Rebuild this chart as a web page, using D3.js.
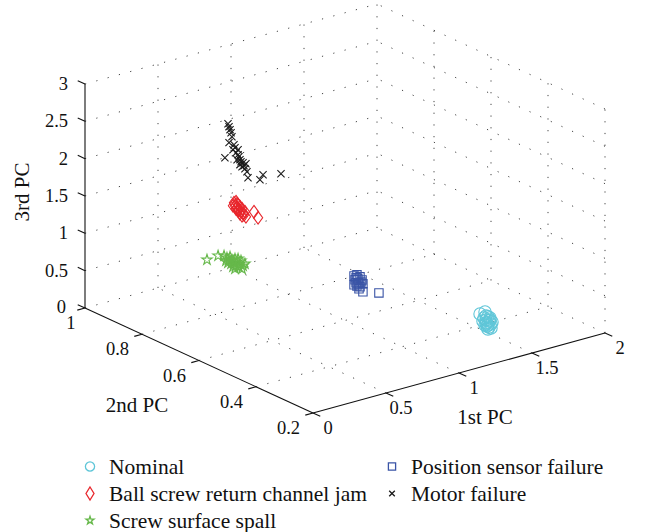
<!DOCTYPE html>
<html>
<head>
<meta charset="utf-8">
<script src="https://cdn.jsdelivr.net/npm/d3@7"></script>
<style>
  html, body { margin: 0; padding: 0; background: #fff; }
</style>
</head>
<body>
<svg id="chart" width="648" height="532" font-family="'Liberation Serif', 'Times New Roman', 'DejaVu Serif', serif"></svg>
<script>
// ---------- data (PC1, PC2, PC3) ----------
const pc1Ticks = [0, 0.5, 1, 1.5, 2];
const pc2Ticks = [0.2, 0.4, 0.6, 0.8, 1];
const pc3Ticks = [0, 0.5, 1, 1.5, 2, 2.5, 3];
const pc1TickLabels = ["0", "0.5", "1", "1.5", "2"];
const pc2TickLabels = ["0.2", "0.4", "0.6", "0.8", "1"];
const pc3TickLabels = ["0", "0.5", "1", "1.5", "2", "2.5", "3"];
const axisTitles = ["1st PC", "2nd PC", "3rd PC"];
const seriesNames = ["Nominal", "Ball screw return channel jam", "Screw surface spall",
                     "Position sensor failure", "Motor failure"];

const nominal = [
  [1.437,0.35,0.293],[1.471,0.35,0.302],[1.464,0.35,0.225],[1.491,0.35,0.225],
  [1.478,0.35,0.191],[1.505,0.35,0.176],[1.484,0.35,0.147],[1.512,0.35,0.119],
  [1.471,0.35,0.128],[1.498,0.35,0.086],[1.519,0.35,0.141],[1.491,0.35,0.064],
  [1.478,0.35,0.245],[1.505,0.35,0.203],[1.457,0.35,0.188],[1.484,0.35,0.107],
  [1.512,0.35,0.065],[1.498,0.35,0.167],[1.478,0.35,0.151],[1.491,0.35,0.117]
];
const ballScrewJam = [
  [0.630,0.8,1.424],[0.644,0.8,1.429],[0.637,0.8,1.379],[0.658,0.8,1.382],
  [0.651,0.8,1.346],[0.671,0.8,1.349],[0.664,0.8,1.311],[0.685,0.8,1.314],
  [0.678,0.8,1.277],[0.692,0.8,1.256],[0.699,0.8,1.225],[0.671,0.8,1.255],
  [0.644,0.8,1.335],[0.658,0.8,1.302],[0.685,0.8,1.220],[0.705,0.8,1.263],
  [0.651,0.8,1.399],[0.712,0.8,1.192],[0.623,0.8,1.387],[0.767,0.8,1.229],
  [0.795,0.8,1.134]
];
const screwSpall = [
  [0.445,0.8,0.759],[0.521,0.8,0.772],[0.562,0.8,0.749],[0.582,0.8,0.712],
  [0.603,0.8,0.714],[0.575,0.8,0.676],[0.596,0.8,0.665],[0.616,0.8,0.666],
  [0.637,0.8,0.669],[0.610,0.8,0.617],[0.630,0.8,0.619],[0.651,0.8,0.622],
  [0.671,0.8,0.584],[0.644,0.8,0.571],[0.664,0.8,0.547],[0.692,0.8,0.546],
  [0.685,0.8,0.509],[0.623,0.8,0.570],[0.589,0.8,0.641],[0.658,0.8,0.658],
  [0.705,0.8,0.566],[0.678,0.8,0.621],[0.637,0.8,0.535]
];
const positionSensor = [
  [1.257,0.7,0.284],[1.277,0.7,0.287],[1.298,0.7,0.249],[1.264,0.7,0.227],
  [1.284,0.7,0.229],[1.312,0.7,0.201],[1.271,0.7,0.184],[1.291,0.7,0.173],
  [1.318,0.7,0.145],[1.277,0.7,0.139],[1.298,0.7,0.115],[1.257,0.7,0.164],
  [1.305,0.7,0.178],[1.284,0.7,0.162],[1.271,0.7,0.251],[1.291,0.7,0.092],
  [1.318,0.7,0.038],[1.330,0.65,0.105]
];
const motorFailure = [
  [0.589,0.8,2.504],[0.596,0.8,2.461],[0.603,0.8,2.417],[0.610,0.8,2.373],
  [0.616,0.8,2.315],[0.596,0.8,2.247],[0.630,0.8,2.201],[0.637,0.8,2.157],
  [0.623,0.8,2.138],[0.658,0.8,2.119],[0.644,0.8,2.086],[0.658,0.8,2.052],
  [0.664,0.8,2.021],[0.568,0.8,2.060],[0.671,0.8,1.979],[0.651,0.8,1.989],
  [0.678,0.8,1.948],[0.692,0.8,1.926],[0.712,0.8,1.902],[0.671,0.8,1.912],
  [0.699,0.8,1.882],[0.685,0.8,1.877],[0.705,0.8,1.839],[0.719,0.8,1.791],
  [0.726,0.8,1.708],[0.808,0.8,1.637],[0.829,0.8,1.692],[0.952,0.8,1.639]
];

// ---------- 3D projection built on d3 scales ----------
const sx = d3.scaleLinear().domain([0, 2]).range([0, 1]);
const sy = d3.scaleLinear().domain([0.2, 1]).range([0, 1]);
const sz = d3.scaleLinear().domain([0, 3]).range([0, 1]);
const O = [313, 413], Ex = [292, -80], Ey = [-228, -105], Ez = [0, -224];
function proj(x, y, z) {
  const u = sx(x), v = sy(y), w = sz(z);
  return [O[0] + u*Ex[0] + v*Ey[0] + w*Ez[0], O[1] + u*Ex[1] + v*Ey[1] + w*Ez[1]];
}

const svg = d3.select("#chart");
const gGrid = svg.append("g");
const gAxes = svg.append("g");
const gData = svg.append("g");
const gLeg = svg.append("g");
const FONT = "'Liberation Serif', 'Times New Roman', 'DejaVu Serif', serif";

function seg(g, a, b, cls) {
  const p = proj(...a), q = proj(...b);
  const l = g.append("line").attr("x1", p[0]).attr("y1", p[1]).attr("x2", q[0]).attr("y2", q[1]);
  if (cls === "grid") l.attr("stroke", "#444").attr("stroke-width", 1).attr("stroke-dasharray", "1.2,10.5");
  else l.attr("stroke", "#111").attr("stroke-width", 1.1);
  return l;
}
const [x0, x1] = sx.domain(), [y0, y1] = sy.domain(), [z0, z1] = sz.domain();

// floor grid
pc1Ticks.filter(t => t !== x0).forEach(t => seg(gGrid, [t, y0, z0], [t, y1, z0], "grid"));
pc2Ticks.filter(t => t !== y0).forEach(t => seg(gGrid, [x0, t, z0], [x1, t, z0], "grid"));
// back wall y = y1
pc1Ticks.filter(t => t !== x0).forEach(t => seg(gGrid, [t, y1, z0], [t, y1, z1], "grid"));
pc3Ticks.filter(t => t !== z0).forEach(t => seg(gGrid, [x0, y1, t], [x1, y1, t], "grid"));
// back wall x = x1
pc2Ticks.filter(t => t !== y1).forEach(t => seg(gGrid, [x1, t, z0], [x1, t, z1], "grid"));
pc3Ticks.filter(t => t !== z0).forEach(t => seg(gGrid, [x1, y0, t], [x1, y1, t], "grid"));

// axes lines
seg(gAxes, [x0, y0, z0], [x1, y0, z0]);
seg(gAxes, [x0, y0, z0], [x0, y1, z0]);
seg(gAxes, [x0, y1, z0], [x0, y1, z1]);

function unit(v) { const n = Math.hypot(v[0], v[1]); return [v[0]/n, v[1]/n]; }
const tickLen = 8;
const dxOut = unit([-Ey[0], -Ey[1]]);   // x ticks point outward (-y)
const dyOut = unit([-Ex[0], -Ex[1]]);   // y ticks point outward (-x)
const dzOut = unit([Ey[0], Ey[1]]);     // z ticks point outward (+y)

function tick(p, d) {
  gAxes.append("line").attr("x1", p[0]).attr("y1", p[1])
    .attr("x2", p[0] + d[0]*tickLen).attr("y2", p[1] + d[1]*tickLen)
    .attr("stroke", "#111").attr("stroke-width", 1.1);
}
function label(x, y, txt, size, anchor) {
  return gAxes.append("text").attr("x", x).attr("y", y)
    .attr("text-anchor", anchor).attr("dominant-baseline", "central")
    .attr("font-family", FONT).attr("font-size", size).attr("fill", "#111").text(txt);
}
const tickFont = 18.5;
pc1Ticks.forEach((t, i) => {
  const p = proj(t, y0, z0); tick(p, dxOut);
  label(p[0] + 15, p[1] + 14.5, pc1TickLabels[i], tickFont, "middle");
});
pc2Ticks.forEach((t, i) => {
  const p = proj(x0, t, z0); tick(p, dyOut);
  label(p[0] - (t === y1 ? 9.5 : 13), p[1] + 15, pc2TickLabels[i], tickFont, "end");
});
pc3Ticks.forEach((t, i) => {
  const p = proj(x0, y1, t); tick(p, dzOut);
  label(p[0] - (t === z0 ? 19 : 17), p[1] - (t === z0 ? 1 : 0), pc3TickLabels[i], tickFont, "end");
});
// axis titles
const titleFont = 21;
label(485, 417, axisTitles[0], titleFont, "middle");
label(137, 405, axisTitles[1], titleFont, "middle");
label(0, 0, axisTitles[2], titleFont, "middle").attr("x", null).attr("y", null)
  .attr("transform", "translate(22,192) rotate(-90)");

// ---------- marker shapes ----------
function diamondPath(w, h) { return `M0,${-h}L${w},0L0,${h}L${-w},0Z`; }
function starPath(R) {
  const r = R * 0.382; let d = "";
  for (let i = 0; i < 10; i++) {
    const a = -Math.PI/2 + i * Math.PI/5, rr = i % 2 ? r : R;
    d += (i ? "L" : "M") + (rr*Math.cos(a)).toFixed(2) + "," + (rr*Math.sin(a)).toFixed(2);
  }
  return d + "Z";
}
function xPath(s) { return `M${-s},${-s}L${s},${s}M${-s},${s}L${s},${-s}`; }
function squarePath(s) { return `M${-s},${-s}H${s}V${s}H${-s}Z`; }
function circlePath(r) { return `M${r},0A${r},${r} 0 1,1 ${-r},0A${r},${r} 0 1,1 ${r},0Z`; }

const colors = ["#5fc6d8", "#e8262c", "#66b84a", "#3a54a6", "#1a1a1a"];
const series = [
  { data: nominal,        color: colors[0], path: circlePath(6.2),       lpath: circlePath(4.6) },
  { data: ballScrewJam,   color: colors[1], path: diamondPath(4.6, 6.4), lpath: diamondPath(4, 6.5) },
  { data: screwSpall,     color: colors[2], path: starPath(5.5),         lpath: starPath(4.2) },
  { data: positionSensor, color: colors[3], path: squarePath(4.2),       lpath: squarePath(3.6) },
  { data: motorFailure,   color: colors[4], path: xPath(3.6),            lpath: xPath(2.8) }
];
series.forEach(s => {
  gData.append("g").selectAll("path").data(s.data).join("path")
    .attr("transform", d => { const p = proj(d[0], d[1], d[2]); return `translate(${p[0]},${p[1]})`; })
    .attr("d", s.path).attr("fill", "none").attr("stroke", s.color).attr("stroke-width", 1.1);
});

// ---------- legend ----------
const legPos = [[90, 466.5], [90, 493.5], [90, 520.5], [392, 466.5], [392, 493.5]];
series.forEach((s, i) => {
  const [lx, ly] = legPos[i];
  gLeg.append("path").attr("transform", `translate(${lx},${ly})`).attr("d", s.lpath)
    .attr("fill", "none").attr("stroke", s.color).attr("stroke-width", 1.3);
  gLeg.append("text").attr("x", lx + 19).attr("y", ly).attr("dominant-baseline", "central")
    .attr("font-family", FONT).attr("font-size", 21.5).attr("fill", "#111").text(seriesNames[i]);
});
</script>
</body>
</html>
